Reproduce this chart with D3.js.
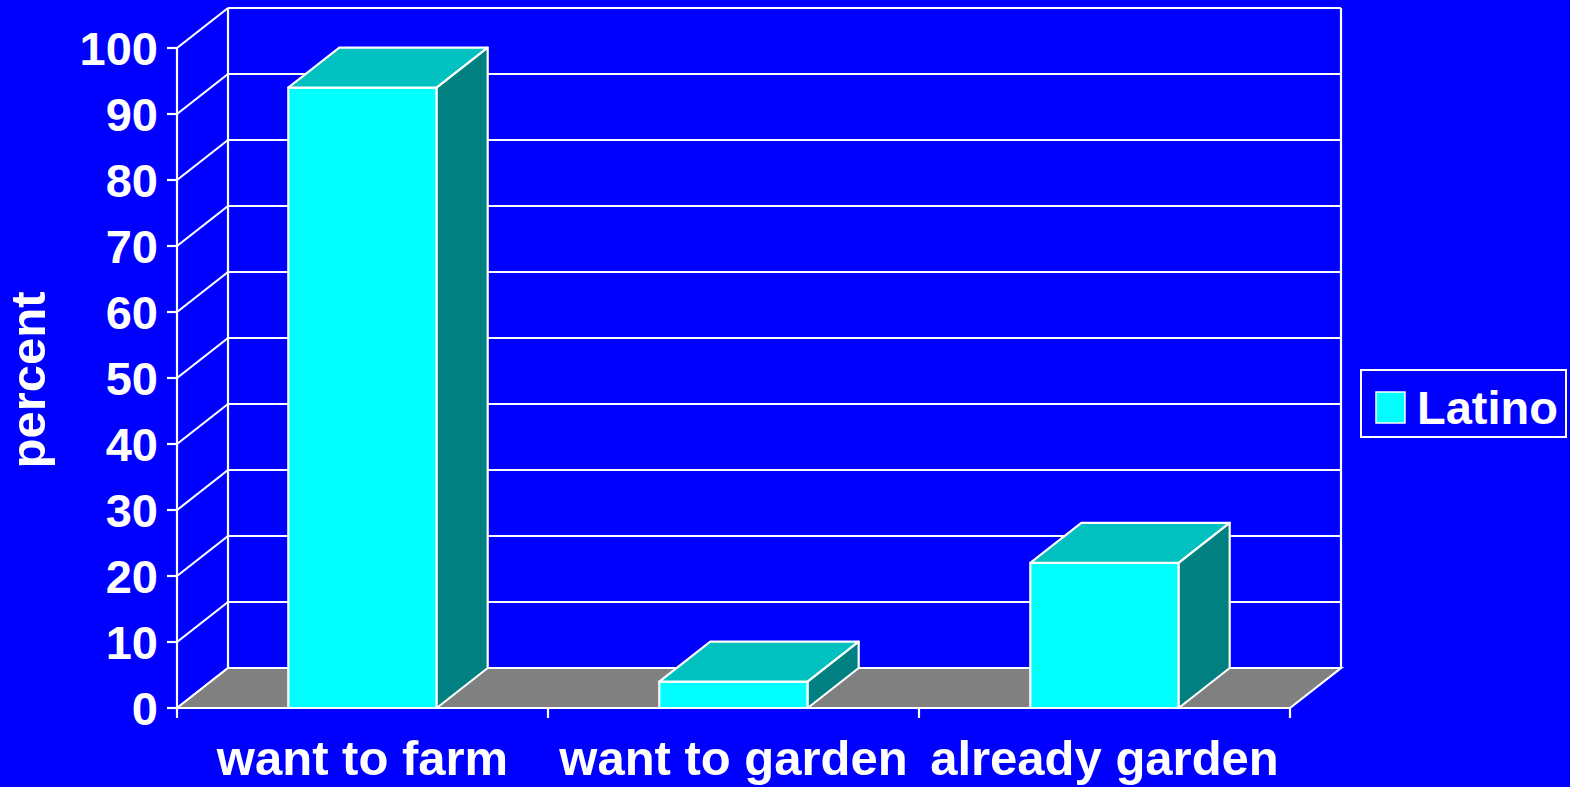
<!DOCTYPE html>
<html>
<head>
<meta charset="utf-8">
<script src="https://cdn.jsdelivr.net/npm/d3@7"></script>
<style>
  html, body { margin:0; padding:0; background:#0000ff; overflow:hidden; }
  text { font-family:"Liberation Sans", Arial, sans-serif; font-weight:bold; fill:#fff; }
</style>
</head>
<body>
<svg id="chart" width="1570" height="787"></svg>
<script>
// chart data
const categories = ["want to farm", "want to garden", "already garden"];
const latinoValues = [94, 4, 22];
const seriesName = "Latino";
const yTickValues = [0, 10, 20, 30, 40, 50, 60, 70, 80, 90, 100];

const svg = d3.select("#chart");

// front plane of the 3d box, and the depth offset to the back wall
const plot = {left:177, right:1290, top:48, bottom:708};
const depth = {dx:51, dy:-40};

const x = d3.scaleBand()
  .domain(categories)
  .range([plot.left, plot.right])
  .paddingInner(0.6)
  .paddingOuter(0.3);

const y = d3.scaleLinear()
  .domain([0, 100])
  .range([plot.bottom, plot.top]);

const catTick = d3.scaleLinear()
  .domain([0, categories.length])
  .range([plot.left, plot.right]);

const white = "#fff";
const pts = arr => arr.map(p => p.join(",")).join(" ");

// back wall + side wall grid
const grid = svg.append("g").attr("stroke", white).attr("stroke-width", 2.2).attr("fill", "none");

grid.selectAll("line.back")
  .data(yTickValues)
  .join("line")
  .attr("class", "back")
  .attr("x1", plot.left + depth.dx)
  .attr("x2", plot.right + depth.dx)
  .attr("y1", d => y(d) + depth.dy)
  .attr("y2", d => y(d) + depth.dy);

grid.selectAll("line.side")
  .data(yTickValues)
  .join("line")
  .attr("class", "side")
  .attr("x1", plot.left)
  .attr("y1", d => y(d))
  .attr("x2", plot.left + depth.dx)
  .attr("y2", d => y(d) + depth.dy);

[plot.left + depth.dx, plot.right + depth.dx].forEach(xx => {
  grid.append("line")
    .attr("x1", xx).attr("x2", xx)
    .attr("y1", y(0) + depth.dy).attr("y2", y(100) + depth.dy);
});

// floor
svg.append("polygon")
  .attr("points", pts([
    [plot.left, y(0)],
    [plot.left + depth.dx, y(0) + depth.dy],
    [plot.right + depth.dx, y(0) + depth.dy],
    [plot.right, y(0)]
  ]))
  .attr("fill", "#808080")
  .attr("stroke", white)
  .attr("stroke-width", 2.2);

// y axis line + ticks
svg.append("line")
  .attr("x1", plot.left).attr("x2", plot.left)
  .attr("y1", y(100)).attr("y2", y(0))
  .attr("stroke", white).attr("stroke-width", 2.2);

svg.selectAll("line.ytick")
  .data(yTickValues)
  .join("line")
  .attr("class", "ytick")
  .attr("x1", plot.left - 10).attr("x2", plot.left)
  .attr("y1", d => y(d)).attr("y2", d => y(d))
  .attr("stroke", white).attr("stroke-width", 2.2);

svg.selectAll("text.ylab")
  .data(yTickValues)
  .join("text")
  .attr("class", "ylab")
  .attr("x", plot.left - 19)
  .attr("y", d => y(d))
  .attr("dy", "0.36em")
  .attr("text-anchor", "end")
  .style("font-size", "47px")
  .text(d => d);

// x axis line + ticks
svg.append("line")
  .attr("x1", plot.left).attr("x2", plot.right)
  .attr("y1", y(0)).attr("y2", y(0))
  .attr("stroke", white).attr("stroke-width", 2.2);

svg.selectAll("line.xtick")
  .data(d3.range(categories.length + 1))
  .join("line")
  .attr("class", "xtick")
  .attr("x1", d => catTick(d)).attr("x2", d => catTick(d))
  .attr("y1", y(0)).attr("y2", y(0) + 10)
  .attr("stroke", white).attr("stroke-width", 2.2);

svg.selectAll("text.xlab")
  .data(categories)
  .join("text")
  .attr("class", "xlab")
  .attr("x", d => x(d) + x.bandwidth() / 2)
  .attr("y", 775)
  .attr("text-anchor", "middle")
  .style("font-size", "49px")
  .text(d => d);

// axis title
svg.append("text")
  .attr("transform", "translate(45,380) rotate(-90)")
  .attr("text-anchor", "middle")
  .style("font-size", "49px")
  .text("percent");

// 3d bars
const bw = x.bandwidth();
const bars = svg.append("g")
  .selectAll("g")
  .data(categories.map((c, i) => ({cat:c, value:latinoValues[i]})))
  .join("g")
  .attr("stroke", white)
  .attr("stroke-width", 2.2)
  .attr("stroke-linejoin", "round");

bars.append("rect")
  .attr("x", d => x(d.cat))
  .attr("y", d => y(d.value))
  .attr("width", bw)
  .attr("height", d => y(0) - y(d.value))
  .attr("fill", "#00ffff");

bars.append("polygon")
  .attr("points", d => {
    const x0 = x(d.cat), yv = y(d.value);
    return pts([[x0, yv], [x0 + depth.dx, yv + depth.dy], [x0 + bw + depth.dx, yv + depth.dy], [x0 + bw, yv]]);
  })
  .attr("fill", "#00c0c0");

bars.append("polygon")
  .attr("points", d => {
    const x1 = x(d.cat) + bw, yv = y(d.value), y0 = y(0);
    return pts([[x1, yv], [x1 + depth.dx, yv + depth.dy], [x1 + depth.dx, y0 + depth.dy], [x1, y0]]);
  })
  .attr("fill", "#008080");

// legend
const legend = svg.append("g");
legend.append("rect")
  .attr("x", 1361).attr("y", 370)
  .attr("width", 205).attr("height", 67)
  .attr("fill", "none")
  .attr("stroke", white).attr("stroke-width", 2);
legend.append("rect")
  .attr("x", 1376).attr("y", 392)
  .attr("width", 29).attr("height", 31)
  .attr("fill", "#00ffff")
  .attr("stroke", white).attr("stroke-width", 1.5);
legend.append("text")
  .attr("x", 1417).attr("y", 424)
  .style("font-size", "47px")
  .text(seriesName);
</script>
</body>
</html>
